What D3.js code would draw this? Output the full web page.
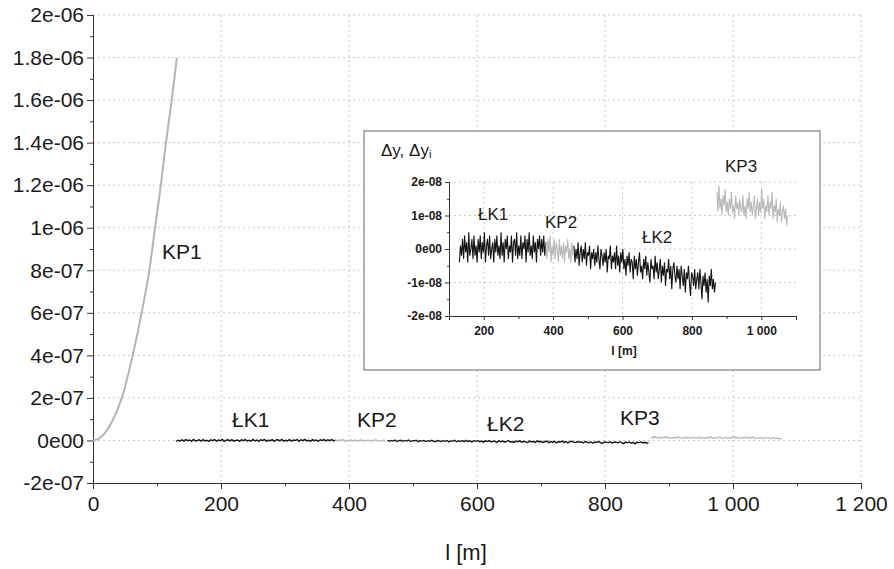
<!DOCTYPE html>
<html>
<head>
<meta charset="utf-8">
<script src="https://cdn.jsdelivr.net/npm/d3@7"></script>
<style>
  body { margin: 0; background: #fff; }
  text { font-family: "Liberation Sans", Arial, sans-serif; fill: #1a1a1a; }
</style>
</head>
<body>
<div id="canvas"></div>
<script>
// ---- data ----
// main x axis ticks [m]
let xTicks = [0, 200, 400, 600, 800, 1000, 1200];
let xMinor = [100, 300, 500, 700, 900, 1100];
let yTicks = [-2e-7, 0, 2e-7, 4e-7, 6e-7, 8e-7, 1e-6, 1.2e-6, 1.4e-6, 1.6e-6, 1.8e-6, 2e-6];
let yTickLabels = ["-2e-07", "0e00", "2e-07", "4e-07", "6e-07", "8e-07", "1e-06", "1.2e-06", "1.4e-06", "1.6e-06", "1.8e-06", "2e-06"];
let yMinor = [-1e-7, 1e-7, 3e-7, 5e-7, 7e-7, 9e-7, 1.1e-6, 1.3e-6, 1.5e-6, 1.7e-6, 1.9e-6];

// inset ticks
let insetXTicks = [200, 400, 600, 800, 1000];
let insetXMinor = [300, 500, 700, 900, 1100];
let insetYTicks = [-2e-8, -1e-8, 0, 1e-8, 2e-8];
let insetYTickLabels = ["-2e-08", "-1e-08", "0e00", "1e-08", "2e-08"];
let insetYMinor = [-1.5e-8, -5e-9, 5e-9, 1.5e-8];

// KP1 curve: [l (m), dy]
let kp1 = [[0, 0], [10, 0.01e-6], [20, 0.04e-6], [30, 0.09e-6], [45, 0.2e-6], [62, 0.4e-6],
  [76, 0.6e-6], [88, 0.8e-6], [97, 1.0e-6], [106, 1.2e-6], [114, 1.4e-6], [123, 1.6e-6], [131, 1.8e-6]];

// noisy sections, values in 1e-9, sampled every 3 m from the start
let step = 3;
let lk1Start = 130;
let lk1 = [-4, 1, -2, 3, -3, 4, -1, 2, -4, 5, -2, 0, 3, -3, 4, -2, 1, -4, 3, -1,
  4, -3, 2, -1, 5, -4, 1, 3, -2, 4, -3, 0, 2, -4, 3, -1, 4, -2, 1, -3,
  5, -2, 2, -4, 3, 0, 4, -3, 1, -1, 4, -4, 2, 3, -2, 5, -3, 1, -2, 4,
  -3, 2, 0, 4, -4, 3, -1, 5, -2, 1, -3, 4, -1, 2, -4, 3, 0, 4, -2, 3, -1, 4, -2, 2];
let kp2Start = 379;
let kp2 = [2, -3, 3, -1, 4, -4, 1, -2, 3, -3, 2, 0, -4, 3, -2, 1, -3, 2, -4, 1, -1, 3, -3, 0, -4, 2, -2];
let lk2Start = 460;
let lk2 = [1, -4, 0, -3, 2, -5, -1, 1, -4, 0, -3, 2, -5, -1, -2, 1, -6, -1, -3, 0,
  -5, -1, -4, 1, -3, -6, 0, -2, -5, -1, -4, 0, -7, -2, -3, 1, -6, -2, -4, -1,
  -6, 1, -5, -2, -7, -1, -4, 0, -6, -3, -8, -2, -5, -1, -7, -3, -4, -9, -2, -6,
  -3, -8, -4, -1, -7, -5, -9, -3, -6, -2, -8, -4, -7, -10, -3, -6, -5, -9, -2, -7,
  -4, -9, -6, -3, -10, -5, -8, -4, -11, -6, -7, -3, -9, -5, -12, -6, -4, -8, -10, -5,
  -9, -6, -12, -5, -8, -11, -6, -13, -7, -9, -5, -10, -14, -7, -8, -11, -6, -12, -9, -7,
  -12, -6, -10, -15, -8, -11, -7, -13, -9, -16, -8, -11, -6, -12, -9, -13, -10];
let kp3Start = 872;
let kp3 = [17, 11, 19, 12, 15, 10, 16, 13, 18, 11, 14, 10, 15, 12, 17, 11, 13, 9, 16, 12,
  14, 10, 15, 12, 11, 16, 10, 13, 9, 15, 12, 17, 11, 14, 10, 13, 16, 9, 12, 15,
  10, 14, 11, 18, 12, 15, 9, 13, 11, 16, 10, 14, 12, 17, 9, 13, 11, 15, 8, 12,
  10, 14, 8, 11, 13, 9, 12, 7, 10];

let toPoints = (start, vals) => vals.map((v, i) => [start + i * step, v * 1e-9]);
let sections = [
  { name: "ŁK1", pts: toPoints(lk1Start, lk1), color: "#141414" },
  { name: "KP2", pts: toPoints(kp2Start, kp2), color: "#b9b9b9" },
  { name: "ŁK2", pts: toPoints(lk2Start, lk2), color: "#141414" },
  { name: "KP3", pts: toPoints(kp3Start, kp3), color: "#b9b9b9" }
];

// ---- chart ----
let width = 894;
let height = 569;
let fmt = d3.formatLocale({ decimal: ".", thousands: " ", grouping: [3], currency: ["", ""] }).format(",d");

let svg = d3.select("#canvas")
  .append("svg")
  .attr("width", width)
  .attr("height", height);

let escalaX = d3.scaleLinear().domain([0, 1200]).range([93, 861]);
let escalaY = d3.scaleLinear().domain([-2e-7, 2e-6]).range([483, 15]);

// grid
svg.append("g").selectAll("line")
  .data(xTicks.slice(1))
  .enter().append("line")
  .attr("x1", d => escalaX(d)).attr("x2", d => escalaX(d))
  .attr("y1", escalaY(2e-6)).attr("y2", escalaY(-2e-7))
  .attr("stroke", "#c8c8c8").attr("stroke-dasharray", "2,3");
svg.append("g").selectAll("line")
  .data(yTicks.slice(1))
  .enter().append("line")
  .attr("y1", d => escalaY(d)).attr("y2", d => escalaY(d))
  .attr("x1", escalaX(0)).attr("x2", escalaX(1200))
  .attr("stroke", "#c8c8c8").attr("stroke-dasharray", "2,3");

let styleAxis = (g, size) => {
  g.selectAll("path.domain").attr("stroke", "#333");
  g.selectAll(".tick line").attr("stroke", "#333");
  g.selectAll("text").style("font-size", size).attr("fill", "#1a1a1a");
};

// axes: minor then major
svg.append("g")
  .attr("transform", "translate(0," + escalaY(-2e-7) + ")")
  .call(d3.axisBottom(escalaX).tickValues(xMinor).tickSize(3).tickFormat(""))
  .call(g => styleAxis(g, "21px"));
svg.append("g")
  .attr("transform", "translate(0," + escalaY(-2e-7) + ")")
  .call(d3.axisBottom(escalaX).tickValues(xTicks).tickSize(6).tickPadding(7).tickFormat(fmt))
  .call(g => styleAxis(g, "21px"));

svg.append("g")
  .attr("transform", "translate(" + escalaX(0) + ",0)")
  .call(d3.axisLeft(escalaY).tickValues(yMinor).tickSize(3).tickFormat(""))
  .call(g => styleAxis(g, "21px"));
svg.append("g")
  .attr("transform", "translate(" + escalaX(0) + ",0)")
  .call(d3.axisLeft(escalaY).tickValues(yTicks).tickSize(6).tickPadding(3)
    .tickFormat((d, i) => yTickLabels[i]))
  .call(g => styleAxis(g, "21px"));

svg.append("text")
  .attr("x", 466).attr("y", 560)
  .attr("text-anchor", "middle")
  .style("font-size", "22px")
  .text("l [m]");

// lines
let linea = d3.line().x(d => escalaX(d[0])).y(d => escalaY(d[1]));
svg.append("path")
  .attr("d", d3.line().curve(d3.curveMonotoneX).x(d => escalaX(d[0])).y(d => escalaY(d[1]))(kp1))
  .attr("fill", "none").attr("stroke", "#b4b4b4").attr("stroke-width", 2);
sections.forEach(s => {
  svg.append("path")
    .attr("d", linea(s.pts))
    .attr("fill", "none").attr("stroke", s.color).attr("stroke-width", 1.4);
});

// main labels
let mainLabels = [
  { t: "KP1", x: 162, y: 259 },
  { t: "ŁK1", x: 232, y: 427 },
  { t: "KP2", x: 357, y: 427 },
  { t: "ŁK2", x: 487, y: 431 },
  { t: "KP3", x: 620, y: 425 }
];
svg.append("g").selectAll("text")
  .data(mainLabels)
  .enter().append("text")
  .attr("x", d => d.x).attr("y", d => d.y)
  .style("font-size", "21px")
  .text(d => d.t);

// ---- inset ----
let inset = svg.append("g");
inset.append("rect")
  .attr("x", 364).attr("y", 131).attr("width", 456).attr("height", 239)
  .attr("fill", "#fff").attr("stroke", "#808080").attr("stroke-width", 1.2);

let insetX = d3.scaleLinear().domain([100, 1100]).range([449, 796]);
let insetY = d3.scaleLinear().domain([-2e-8, 2e-8]).range([316, 182]);

inset.append("g").selectAll("line")
  .data(insetXTicks)
  .enter().append("line")
  .attr("x1", d => insetX(d)).attr("x2", d => insetX(d))
  .attr("y1", insetY(2e-8)).attr("y2", insetY(-2e-8))
  .attr("stroke", "#c8c8c8").attr("stroke-dasharray", "2,3");
inset.append("g").selectAll("line")
  .data(insetYTicks.slice(1))
  .enter().append("line")
  .attr("y1", d => insetY(d)).attr("y2", d => insetY(d))
  .attr("x1", insetX(100)).attr("x2", insetX(1100))
  .attr("stroke", "#c8c8c8").attr("stroke-dasharray", "2,3");

let styleInset = g => {
  styleAxis(g, "12px");
  g.selectAll("text").style("font-weight", "bold").attr("fill", "#333");
};
inset.append("g")
  .attr("transform", "translate(0," + insetY(-2e-8) + ")")
  .call(d3.axisBottom(insetX).tickValues(insetXMinor).tickSize(3).tickFormat(""))
  .call(styleInset);
inset.append("g")
  .attr("transform", "translate(0," + insetY(-2e-8) + ")")
  .call(d3.axisBottom(insetX).tickValues(insetXTicks).tickSize(4).tickPadding(6).tickFormat(fmt))
  .call(styleInset);
inset.append("g")
  .attr("transform", "translate(" + insetX(100) + ",0)")
  .call(d3.axisLeft(insetY).tickValues(insetYMinor).tickSize(2).tickFormat(""))
  .call(styleInset);
inset.append("g")
  .attr("transform", "translate(" + insetX(100) + ",0)")
  .call(d3.axisLeft(insetY).tickValues(insetYTicks).tickSize(4).tickPadding(3)
    .tickFormat((d, i) => insetYTickLabels[i]))
  .call(styleInset);

let lineaInset = d3.line().x(d => insetX(d[0])).y(d => insetY(d[1]));
sections.forEach(s => {
  inset.append("path")
    .attr("d", lineaInset(s.pts))
    .attr("fill", "none").attr("stroke", s.color).attr("stroke-width", 1.1);
});

let titulo = inset.append("text")
  .attr("x", 381).attr("y", 156)
  .style("font-size", "17px").attr("fill", "#222")
  .text("Δy, Δy");
titulo.append("tspan").attr("dy", 2).style("font-size", "11px").text("i");

inset.append("text")
  .attr("x", 624).attr("y", 355)
  .attr("text-anchor", "middle")
  .style("font-size", "12px").style("font-weight", "bold").attr("fill", "#333")
  .text("l [m]");

let insetLabels = [
  { t: "ŁK1", x: 478, y: 220 },
  { t: "KP2", x: 545, y: 228 },
  { t: "ŁK2", x: 642, y: 243 },
  { t: "KP3", x: 725, y: 172 }
];
inset.append("g").selectAll("text")
  .data(insetLabels)
  .enter().append("text")
  .attr("x", d => d.x).attr("y", d => d.y)
  .style("font-size", "17px").attr("fill", "#222")
  .text(d => d.t);
</script>
</body>
</html>
